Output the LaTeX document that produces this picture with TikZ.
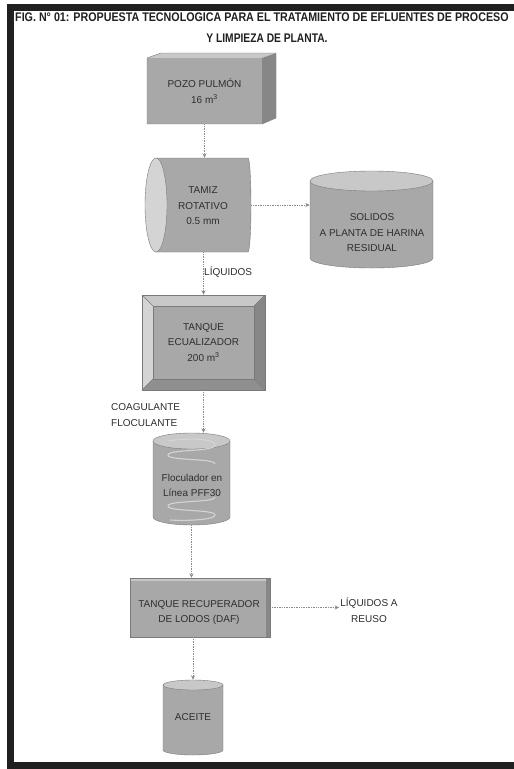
\documentclass[tikz,border=0pt]{standalone}
\usepackage{fontspec}
\setmainfont{Liberation Sans}
\newfontfamily\titlefont[FakeStretch=0.82]{Liberation Sans}
\usetikzlibrary{arrows.meta}
\definecolor{framec}{HTML}{202020}
\definecolor{txtc}{HTML}{2E2E2E}
\definecolor{bodyc}{HTML}{A8A8A8}
\definecolor{lightc}{HTML}{C8C8C8}
\definecolor{paler}{HTML}{D4D4D4}
\definecolor{darkc}{HTML}{878787}
\definecolor{edgec}{HTML}{7A7A7A}
\definecolor{flowc}{HTML}{8A8A8A}
\begin{document}
\begin{tikzpicture}[x=1pt,y=-1pt,
  titletext/.style={font=\titlefont\bfseries\fontsize{12.5}{14}\selectfont, text=framec, inner sep=0pt},
  lbl/.style={font=\fontsize{10}{15.5}\selectfont, text=txtc, align=center, inner sep=1pt},
  shapebox/.style={draw=none, inner sep=0pt, rectangle},
  edge/.style={draw=edgec, line width=0.4pt},
  flow/.style={draw=flowc, line width=0.7pt, densely dotted, -{Stealth[length=4.5pt,width=4pt]}},
  coil/.style={draw=paler, line width=1.1pt}
]
\useasboundingbox (0,0) rectangle (514,769);
\fill[white] (0,0) rectangle (514,769);
% frame
\fill[framec] (7,4) rectangle (514,11);
\fill[framec] (7,4) rectangle (14,769);
\fill[framec] (7,762) rectangle (514,769);

% title
\node[titletext, anchor=west, xscale=1.045] (t1) at (15,17) {FIG. N° 01: PROPUESTA TECNOLOGICA PARA EL TRATAMIENTO DE EFLUENTES DE PROCESO};
\node[titletext] (t2) at (267,38) {Y LIMPIEZA DE PLANTA.};

% POZO PULMON (3D box)
\fill[lightc] (147,58) -- (161,53) -- (276,53) -- (262,58) -- cycle;
\fill[darkc] (262,58) -- (276,53) -- (276,118) -- (262,124) -- cycle;
\fill[bodyc] (147,58) rectangle (262,124);
\draw[edge] (147,58) -- (161,53) -- (276,53) -- (276,118) -- (262,124) -- (147,124) -- cycle;
\node[shapebox, minimum width=115pt, minimum height=66pt, lbl] (pozo) at (204.5,91) {POZO PULMÓN\\16 m\textsuperscript{3}};

% TAMIZ ROTATIVO (horizontal cylinder)
\fill[bodyc] (156,158) -- (248,158) arc[start angle=-90, end angle=90, x radius=3, y radius=47] -- (156,252) -- cycle;
\draw[edge] (156,158) -- (248,158) arc[start angle=-90, end angle=90, x radius=3, y radius=47] -- (156,252);
\fill[paler] (156,205) ellipse[x radius=11, y radius=47];
\draw[edge] (156,205) ellipse[x radius=11, y radius=47];
\node[shapebox, minimum width=106pt, minimum height=94pt] (tamiz) at (198,205) {};
\node[lbl] (tamiztxt) at (203,206) {TAMIZ\\ROTATIVO\\0.5 mm};

% SOLIDOS (wide vertical cylinder)
\fill[bodyc] (310,181) -- (310,258) arc[start angle=180, end angle=0, x radius=61.5, y radius=10] -- (433,181) -- cycle;
\draw[edge] (310,181) -- (310,258) arc[start angle=180, end angle=0, x radius=61.5, y radius=10] -- (433,181);
\fill[lightc] (371.5,181) ellipse[x radius=61.5, y radius=10];
\draw[edge] (371.5,181) ellipse[x radius=61.5, y radius=10];
\node[shapebox, minimum width=123pt, minimum height=97pt] (solidos) at (371.5,219.5) {};
\node[lbl] (solidostxt) at (372,233) {SOLIDOS\\A PLANTA DE HARINA\\RESIDUAL};

% TANQUE ECUALIZADOR (bevelled box)
\fill[lightc] (142,295) -- (265,295) -- (254,306) -- (153,306) -- cycle;
\fill[paler] (142,295) -- (153,306) -- (153,379) -- (142,390) -- cycle;
\fill[darkc] (265,295) -- (265,390) -- (254,379) -- (254,306) -- cycle;
\fill[bodyc!85!black] (142,390) -- (265,390) -- (254,379) -- (153,379) -- cycle;
\fill[bodyc] (153,306) rectangle (254,379);
\draw[edge] (142,295) rectangle (265,390);
\draw[edge] (153,306) rectangle (254,379);
\draw[edge] (142,295) -- (153,306) (265,295) -- (254,306) (142,390) -- (153,379) (265,390) -- (254,379);
\node[shapebox, minimum width=123pt, minimum height=95pt, lbl] (ecual) at (203.5,342.5) {TANQUE\\ECUALIZADOR\\200 m\textsuperscript{3}};

% FLOCULADOR (vertical cylinder with coil)
\fill[bodyc] (153,441) -- (153,517) arc[start angle=180, end angle=0, x radius=38.5, y radius=8] -- (230,441) -- cycle;
\draw[edge] (153,441) -- (153,517) arc[start angle=180, end angle=0, x radius=38.5, y radius=8] -- (230,441);
\fill[lightc] (191.5,441) ellipse[x radius=38.5, y radius=8];
\draw[edge] (191.5,441) ellipse[x radius=38.5, y radius=8];
\draw[coil] (168,441) .. controls (185,438) and (215,438) .. (215,445)
  .. controls (215,452) and (168,449) .. (168,455)
  .. controls (168,461) and (215,458) .. (215,464);
\draw[coil] (215,497) .. controls (215,503) and (168,500) .. (168,506)
  .. controls (168,512) and (215,509) .. (215,515)
  .. controls (215,520) and (185,521) .. (170,520);
\node[shapebox, minimum width=77pt, minimum height=92pt] (floc) at (191.5,479) {};
\node[lbl, font=\fontsize{10}{15}\selectfont] (floctxt) at (192,485.5) {Floculador en\\Línea PFF30};

% TANQUE RECUPERADOR DE LODOS (DAF)
\fill[darkc] (266,578) rectangle (270,637);
\fill[lightc] (130,578) rectangle (266,581);
\fill[bodyc] (130,581) rectangle (266,637);
\draw[edge] (130,578) rectangle (270,637);
\node[shapebox, minimum width=140pt, minimum height=59pt] (daf) at (200,607.5) {};
\node[lbl] (daftxt) at (199,612.5) {TANQUE RECUPERADOR\\DE LODOS (DAF)};

% ACEITE (vertical cylinder)
\fill[bodyc] (163,685) -- (163,750) arc[start angle=180, end angle=0, x radius=30, y radius=5] -- (223,685) -- cycle;
\draw[edge] (163,685) -- (163,750) arc[start angle=180, end angle=0, x radius=30, y radius=5] -- (223,685);
\fill[lightc] (193,685) ellipse[x radius=30, y radius=5];
\draw[edge] (193,685) ellipse[x radius=30, y radius=5];
\node[shapebox, minimum width=60pt, minimum height=75pt, lbl] (aceite) at (193,717.5) {ACEITE};

% labels
\node[lbl, anchor=west] (liq) at (203,272) {LÍQUIDOS};
\node[lbl, anchor=west, align=left] (coag) at (110,415) {COAGULANTE\\FLOCULANTE};
\node[lbl] (reuso) at (369,610) {LÍQUIDOS A\\REUSO};

% connectors
\draw[flow] (pozo.south) -- (pozo.south |- tamiz.north);
\draw[flow] (tamiz.east) -- (tamiz.east -| solidos.west);
\draw[flow] (ecual.north |- tamiz.south) -- (ecual.north);
\draw[flow] (ecual.south) -- (ecual.south |- floc.north);
\draw[flow] (floc.south) -- (floc.south |- daf.north);
\draw[flow] (daf.east) -- (daf.east -| reuso.west);
\draw[flow] (aceite.north |- daf.south) -- (aceite.north);
\end{tikzpicture}
\end{document}
